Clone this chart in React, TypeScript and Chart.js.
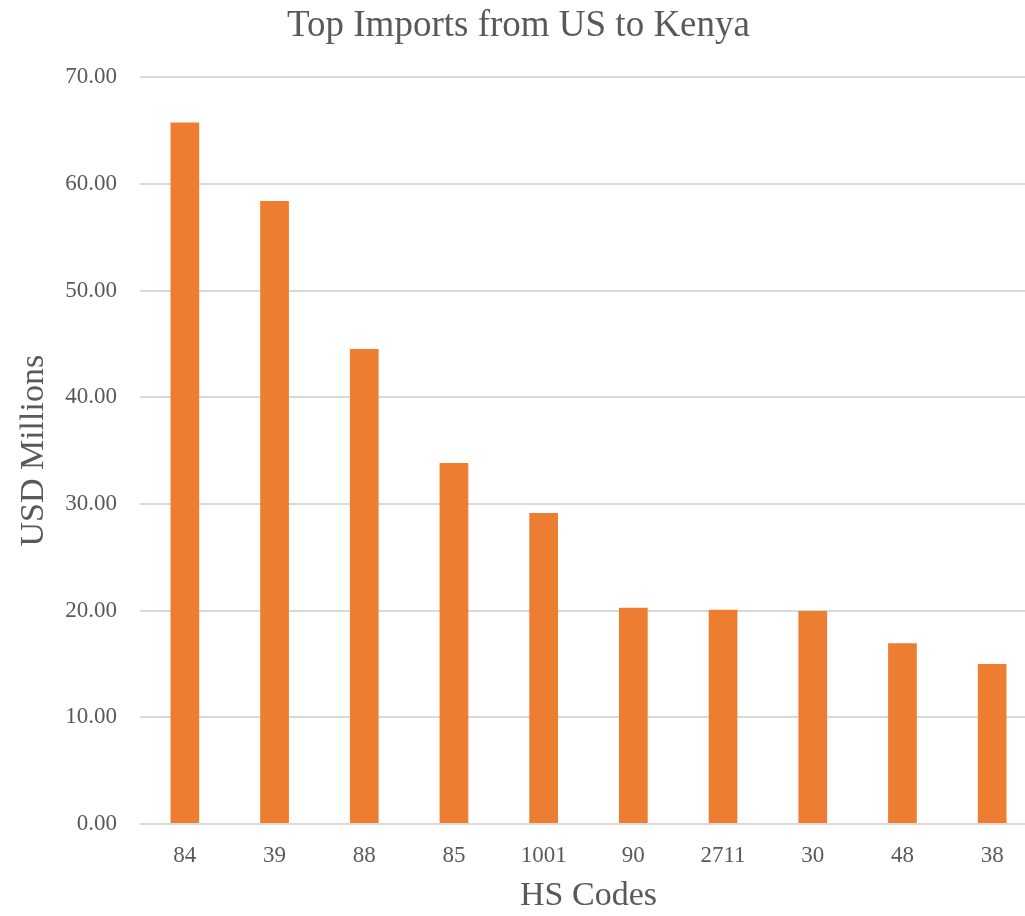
import React, { useEffect, useRef } from "react";
import { Chart, registerables } from "chart.js";

Chart.register(...registerables);

const TITLE = "Top Imports from US to Kenya";
const X_TITLE = "HS Codes";
const Y_TITLE = "USD Millions";
const categories = ["84", "39", "88", "85", "1001", "90", "2711", "30", "48", "38"];
const importValues = [65.78, 58.4, 44.53, 33.84, 29.16, 20.28, 20.09, 19.97, 16.94, 15.0];

const FONT = "'Liberation Serif', 'DejaVu Serif', serif";
const TEXT = "#595959";
const BAR = "#ED7D31";
const GRID = "#d9d9d9";

export default function App() {
  const ref = useRef<HTMLCanvasElement | null>(null);

  useEffect(() => {
    if (!ref.current) return;
    const chart = new Chart(ref.current, {
      type: "bar",
      data: {
        labels: categories,
        datasets: [
          {
            label: "Imports",
            data: importValues,
            backgroundColor: BAR,
            borderWidth: 0,
            barPercentage: 0.32,
            categoryPercentage: 1,
          },
        ],
      },
      options: {
        animation: false,
        responsive: true,
        maintainAspectRatio: false,
        layout: { padding: { left: 0, right: 0, top: 0, bottom: 0 } },
        plugins: {
          legend: { display: false },
          tooltip: { enabled: false },
          title: {
            display: true,
            text: TITLE,
            color: TEXT,
            font: { family: FONT, size: 37, weight: "normal" },
            padding: { top: 4, bottom: 29 },
          },
        },
        scales: {
          x: {
            grid: { display: false, drawTicks: false },
            border: { display: false },
            ticks: {
              color: TEXT,
              font: { family: FONT, size: 23 },
              padding: 18,
              maxRotation: 0,
            },
            title: {
              display: true,
              text: X_TITLE,
              color: TEXT,
              font: { family: FONT, size: 34 },
              padding: { top: 0, bottom: 0 },
            },
            afterFit: (s: any) => {
              s.height = 92;
            },
          },
          y: {
            min: 0,
            max: 70,
            grid: { color: GRID, lineWidth: 2, drawTicks: false },
            border: { display: false },
            ticks: {
              stepSize: 10,
              color: TEXT,
              font: { family: FONT, size: 23 },
              padding: 23,
              callback: (v: any) => Number(v).toFixed(2),
            },
            title: {
              display: true,
              text: Y_TITLE,
              color: TEXT,
              font: { family: FONT, size: 34 },
              padding: { top: 14, bottom: 0 },
            },
            afterFit: (s: any) => {
              s.width = 140;
            },
          },
        },
      },
    });
    return () => chart.destroy();
  }, []);

  return (
    <div style={{ position: "absolute", left: 0, top: 0, width: 1025, height: 916, overflow: "hidden", background: "#fff" }}>
      <div style={{ position: "relative", width: 1037, height: 916 }}>
        <canvas ref={ref} />
      </div>
    </div>
  );
}
